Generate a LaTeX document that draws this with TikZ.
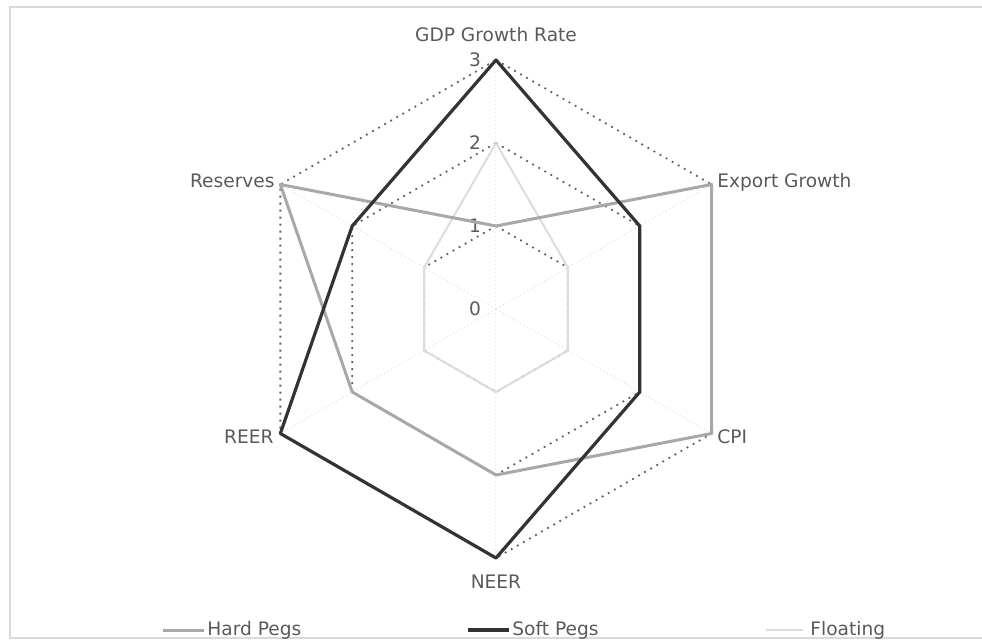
\documentclass[tikz,border=0pt]{standalone}
\usepackage{fontspec}
\setmainfont{DejaVu Sans}
\usepackage{xcolor,tikz}
\usetikzlibrary{positioning}
\definecolor{txtc}{HTML}{5A5A5A}
\definecolor{gridc}{HTML}{606060}
\definecolor{spokec}{HTML}{E2E2E2}
\definecolor{hardc}{HTML}{A8A8A8}
\definecolor{softc}{HTML}{333333}
\definecolor{fltc}{HTML}{DCDCDC}
\definecolor{framec}{HTML}{DADADA}

\begin{document}
\begin{tikzpicture}[x=.5pt,y=.5pt,
  lab/.style={text=txtc,font=\fontsize{9.3}{11}\selectfont,inner sep=0pt},
  grid/.style={draw=gridc,line width=.9pt,dash pattern=on .9pt off 2.6pt},
  spoke/.style={draw=spokec,line width=.5pt,dash pattern=on .6pt off 1.4pt},
  hard/.style={draw=hardc,line width=1.5pt,line join=round},
  soft/.style={draw=softc,line width=1.6pt,line join=round},
  flt/.style={draw=fltc,line width=1pt,line join=round}]
  \useasboundingbox (-496,-334) rectangle (486,309);
  \draw[framec,line width=.8pt] (486,302) -- (-486,302) -- (-486,-329) -- (486,-329);
  \coordinate (o) at (0,0);
  \foreach \a/\h/\s/\f [count=\i] in {90/1/3/2,30/3/2/1,-30/3/2/1,-90/2/3/1,210/2/3/1,150/3/2/1}{
    \coordinate (ax\i) at ({\a}:249);
    \coordinate (h\i) at ({\a}:{\h*83});
    \coordinate (s\i) at ({\a}:{\s*83});
    \coordinate (f\i) at ({\a}:{\f*83});
    \draw[spoke] (o) -- (ax\i);
  }
  \foreach \l in {1,2,3}
    \draw[grid] (90:\l*83) -- (30:\l*83) -- (-30:\l*83) -- (-90:\l*83) -- (210:\l*83) -- (150:\l*83) -- cycle;
  \foreach \l in {0,...,3}
    \node[lab] (v\l) at (-21,\l*83) {\l};
  \draw[flt] (f1) -- (f2) -- (f3) -- (f4) -- (f5) -- (f6) -- cycle;
  \draw[hard] (h1) -- (h2) -- (h3) -- (h4) -- (h5) -- (h6) -- cycle;
  \draw[soft] (s1) -- (s2) -- (s3) -- (s4) -- (s5) -- (s6) -- cycle;
  \node[lab] (gdp) at (0,274) {GDP Growth Rate};
  \node[lab,anchor=west] (export) at (221,127) {Export Growth};
  \node[lab,anchor=west] (cpi) at (221,-128) {CPI};
  \node[lab] (neer) at (0,-273) {NEER};
  \node[lab,anchor=east] (reer) at (-222,-128) {REER};
  \node[lab,anchor=east] (reserves) at (-221,128) {Reserves};
  \node[lab,anchor=west] (lhard) at (-289,-321) {Hard Pegs};
  \node[lab,anchor=west] (lsoft) at (16,-321) {Soft Pegs};
  \node[lab,anchor=west] (lflt) at (314,-321) {Floating};
  \draw[hard] (lhard.west) ++(-3,0) -- ++(-41,0);
  \draw[soft] (lsoft.west) ++(-3,0) -- ++(-41,0);
  \draw[flt,line width=.6pt] (lflt.west) ++(-7,0) -- ++(-37,0);
\end{tikzpicture}
\end{document}
